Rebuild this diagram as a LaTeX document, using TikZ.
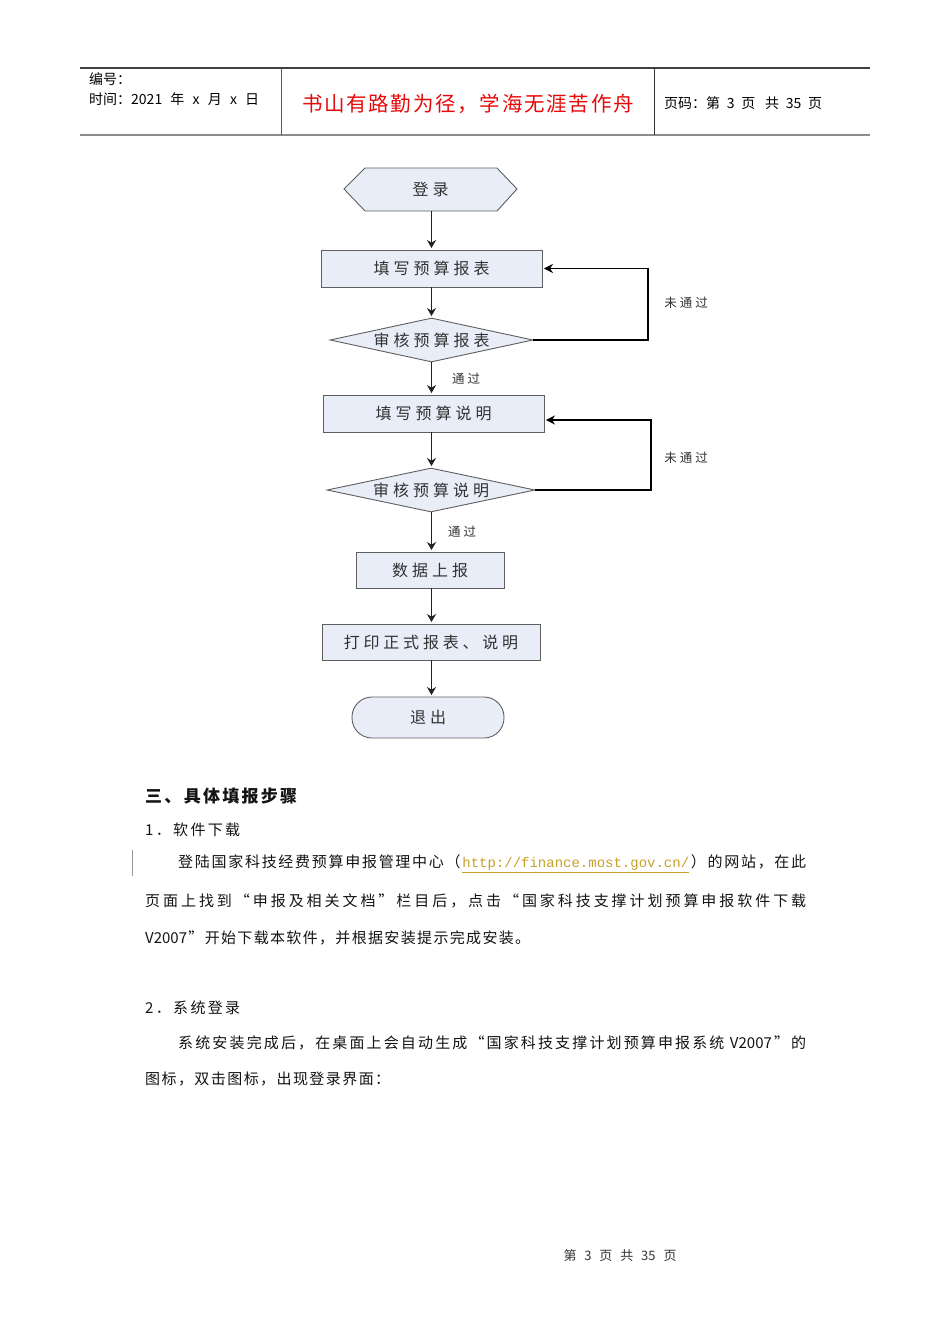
\documentclass[tikz,border=0pt]{standalone}
\usepackage{fontspec}
\setmainfont{Noto Sans CJK SC}
\newfontfamily\urlfont{Liberation Mono}
\usetikzlibrary{shapes.geometric,arrows.meta}
\definecolor{boxfill}{RGB}{232,237,248}
\definecolor{boxline}{RGB}{95,95,95}
\definecolor{flowtext}{RGB}{50,50,50}
\definecolor{arrowcol}{RGB}{35,35,35}
\definecolor{urlcol}{RGB}{200,160,40}
\definecolor{redtext}{RGB}{230,10,10}
\definecolor{bodytext}{RGB}{20,20,20}
\ExplSyntaxOn
\NewDocumentCommand\spreadto{mm}{\hbox~to~#1{\tl_map_inline:nn{#2}{##1\hfil}\unskip}}
\NewDocumentCommand\ls{mm}{\tl_map_inline:nn{#2}{##1\kern#1}\unkern}
\ExplSyntaxOff
\begin{document}
\begin{tikzpicture}[x=1pt,y=-1pt,
  box/.style={draw=boxline, fill=boxfill, line width=0.9pt, inner sep=0pt, text=flowtext, font=\fontsize{16}{16}\selectfont},
  rbox/.style={box, rectangle},
  dbox/.style={box, diamond, aspect=4.6, minimum height=44},
  arr/.style={draw=arrowcol, line width=1.4pt, shorten >=1.5pt, -{Stealth[length=8pt,width=9pt]}},
  fb/.style={draw=black, line width=1.6pt, shorten >=1.5pt, -{Stealth[length=9pt,width=9pt]}},
  lbl/.style={inner sep=0pt, text=flowtext, font=\fontsize{12.5}{13}\selectfont},
  hd/.style={anchor=west, inner sep=0pt, text=black, font=\fontsize{14}{15}\selectfont},
  body/.style={anchor=west, inner sep=0pt, text=bodytext, font=\fontsize{15}{16}\selectfont},
  foot/.style={inner sep=0pt, text=black!80, font=\fontsize{13}{14}\selectfont}]
\useasboundingbox (0,0) rectangle (950,1344);
\fill[white] (0,0) rectangle (950,1344);

% ---------- header ----------
\draw[line width=1.2pt, draw=black!75] (80,68) -- (870,68);
\draw[line width=2pt, draw=black!45] (80,135) -- (870,135);
\draw[line width=1pt, draw=black!65] (281,68) -- (281,135);
\draw[line width=1pt, draw=black!80] (654,68) -- (654,135);
\node[hd] (hno) at (89,79) {编号：};
\node[hd] (htime) at (89,99) {\spreadto{170pt}{{时间：2021}年x月x日}};
\node[inner sep=0pt, text=redtext, font=\fontsize{20.5}{21}\selectfont] (motto) at (468,104) {\spreadto{332pt}{书山有路勤为径，学海无涯苦作舟}};
\node[hd] (hpage) at (664,103) {\spreadto{158pt}{{页码：第}{3}页{\ 共}{35}页}};

% ---------- flowchart ----------
\fill[boxfill] (344,189) -- (365,168) -- (497,168) -- (517,189) -- (497,211) -- (365,211) -- cycle;
\draw[boxline, line width=0.9pt] (344,189) -- (365,168) -- (497,168) -- (517,189) -- (497,211) -- (365,211) -- cycle;
\node[inner sep=0pt, minimum width=173, minimum height=43, text=flowtext, font=\fontsize{16}{16}\selectfont] (login) at (430.5,189.5) {\ls{4pt}{登录}};

\node[rbox, minimum width=221, minimum height=37] (fill1) at (431.5,268.5) {\ls{4pt}{填写预算报表}};
\node[dbox, minimum width=203] (check1) at (431.5,340) {\ls{4pt}{审核预算报表}};
\node[rbox, minimum width=221, minimum height=37] (fill2) at (433.5,413.5) {\ls{4pt}{填写预算说明}};
\node[dbox, minimum width=208] (check2) at (431,490) {\ls{4pt}{审核预算说明}};
\node[rbox, minimum width=148, minimum height=36] (upload) at (430,570) {\ls{4pt}{数据上报}};
\node[rbox, minimum width=218, minimum height=36] (print) at (431,642) {\ls{3.8pt}{打印正式报表、说明}};
\node[box, rectangle, rounded corners=20pt, minimum width=152, minimum height=41] (exit) at (428,717.5) {\ls{4pt}{退出}};

\coordinate (ax) at (431.5,0);
\draw[arr] (login.south -| ax) -- (ax |- fill1.north);
\draw[arr] (fill1.south -| ax) -- (ax |- check1.north);
\draw[arr] (check1.south -| ax) -- (ax |- fill2.north);
\draw[arr] (fill2.south -| ax) -- (ax |- check2.north);
\draw[arr] (check2.south -| ax) -- (ax |- upload.north);
\draw[arr] (upload.south -| ax) -- (ax |- print.north);
\draw[arr] (print.south -| ax) -- (ax |- exit.north);

\coordinate (r1) at (648,0);
\coordinate (r2) at (651,0);
\draw[fb] (check1.east) -- (check1.east -| r1) |- (fill1.east);
\draw[fb] (check2.east) -- (check2.east -| r2) |- ([yshift=-6.5pt]fill2.east);

\node[lbl] (nopass1) at (686,303) {\ls{3pt}{未通过}};
\node[lbl] (nopass2) at (686,458) {\ls{3pt}{未通过}};
\node[lbl] (pass1) at (466,379) {\ls{3pt}{通过}};
\node[lbl] (pass2) at (462,532) {\ls{3pt}{通过}};

% ---------- body text ----------
\node[body, font=\fontsize{17}{18}\selectfont\bfseries] (sec3) at (145,796) {\spreadto{152pt}{三、具体填报步骤}};
\node[body] (s1) at (145,830) {\spreadto{95pt}{1．软件下载}};
\draw[black!40, line width=0.8pt] (132,850) -- (132,876);
\node[body] (p1a) at (178,864) {\spreadto{628pt}{登陆国家科技经费预算申报管理中心（{\textcolor{urlcol}{\underline{\urlfont\fontsize{14}{15}\selectfont http://finance.most.gov.cn/}}}）的网站，在此}};
\node[body] (p1b) at (145,901) {\spreadto{661pt}{页面上找到“申报及相关文档”栏目后，点击“国家科技支撑计划预算申报软件下载}};
\node[body] (p1c) at (145,938) {\spreadto{385pt}{{V2007}”开始下载本软件，并根据安装提示完成安装。}};
\node[body] (s2) at (145,1008) {\spreadto{95pt}{2．系统登录}};
\node[body] (p2a) at (178,1043) {\spreadto{628pt}{系统安装完成后，在桌面上会自动生成“国家科技支撑计划预算申报系统{\ V2007}”的}};
\node[body] (p2b) at (145,1079) {\spreadto{245pt}{图标，双击图标，出现登录界面：}};

% ---------- footer ----------
\node[foot] (ft) at (620,1256) {\spreadto{113pt}{第{3}页共{35}页}};
\end{tikzpicture}
\end{document}
